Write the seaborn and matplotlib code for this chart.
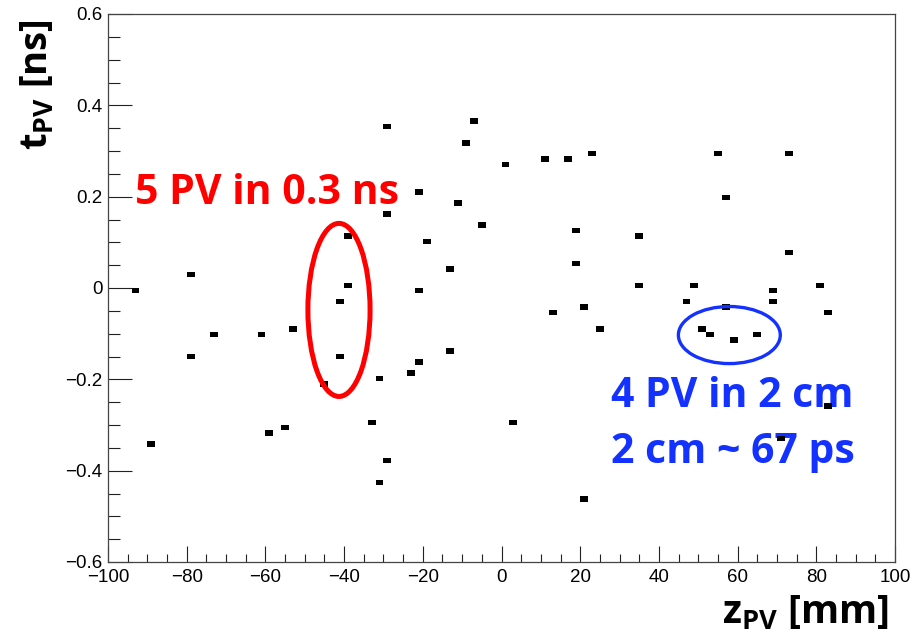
import numpy as np
import pandas as pd
import seaborn as sns
import matplotlib
matplotlib.use("Agg")
import matplotlib.pyplot as plt
from matplotlib.colors import ListedColormap
from matplotlib.patches import Ellipse
from matplotlib.ticker import MultipleLocator, FixedLocator, FixedFormatter

# Reconstructed primary vertices: longitudinal position (mm) and time (ns)
z_pv = [-93, -89, -79, -79, -73, -61, -59, -55, -53, -45,
        -41, -41, -39, -39, -33, -31, -31, -29, -29, -29,
        -23, -21, -21, -21, -19, -13, -13, -11, -9, -7,
        -5, 1, 3, 11, 13, 17, 19, 19, 21, 21,
        23, 25, 35, 35, 47, 49, 51, 53, 55, 57,
        57, 59, 65, 69, 69, 71, 73, 73, 81, 83,
        83]
t_pv = [-0.006, -0.342, 0.030, -0.150, -0.102, -0.102, -0.318, -0.306, -0.090, -0.210,
        -0.030, -0.150, 0.114, 0.006, -0.294, -0.198, -0.426, 0.354, 0.162, -0.378,
        -0.186, 0.210, -0.006, -0.162, 0.102, 0.042, -0.138, 0.186, 0.318, 0.366,
        0.138, 0.270, -0.294, 0.282, -0.054, 0.282, 0.126, 0.054, -0.042, -0.462,
        0.294, -0.090, 0.114, 0.006, -0.030, 0.006, -0.090, -0.102, 0.294, 0.198,
        -0.042, -0.114, -0.102, -0.006, -0.030, -0.330, 0.294, 0.078, 0.006, -0.054,
        -0.258]

x_ticks = [-100, -80, -60, -40, -20, 0, 20, 40, 60, 80, 100]
x_tick_labels = ["\u2212100", "\u221280", "\u221260", "\u221240", "\u221220",
                 "0", "20", "40", "60", "80", "100"]
y_ticks = [-0.6, -0.4, -0.2, 0.0, 0.2, 0.4, 0.6]
y_tick_labels = ["\u22120.6", "\u22120.4", "\u22120.2", "0", "0.2", "0.4", "0.6"]

red_note = "5 PV in 0.3 ns"
blue_notes = ["4 PV in 2 cm", "2 cm ~ 67 ps"]

sns.set_theme(style="white")
plt.rcParams["font.family"] = ["Liberation Sans", "DejaVu Sans"]
plt.rcParams["text.color"] = "black"
plt.rcParams["mathtext.fontset"] = "custom"
plt.rcParams["mathtext.rm"] = "Open Sans:bold"
plt.rcParams["mathtext.bf"] = "Open Sans:bold"
plt.rcParams["mathtext.it"] = "Open Sans:bold"

W, H = 914, 633
fig = plt.figure(figsize=(W / 100, H / 100), dpi=100)
fig.patch.set_facecolor("white")
left, right, top, bottom = 108, 895, 14, 562
ax = fig.add_axes([left / W, 1 - bottom / H, (right - left) / W, (bottom - top) / H])
ax.set_facecolor("white")

df = pd.DataFrame({"z": z_pv, "t": t_pv})
x_edges = np.linspace(-100, 100, 101)
y_edges = np.linspace(-0.6, 0.6, 101)
sns.histplot(data=df, x="z", y="t", bins=(x_edges, y_edges),
             cmap=ListedColormap(["black"]), cbar=False, ax=ax, zorder=3)

ax.set_xlim(-100, 100)
ax.set_ylim(-0.6, 0.6)
ax.set_xlabel("")
ax.set_ylabel("")

ax.xaxis.set_major_locator(FixedLocator(x_ticks))
ax.xaxis.set_major_formatter(FixedFormatter(x_tick_labels))
ax.xaxis.set_minor_locator(MultipleLocator(5))
ax.yaxis.set_major_locator(FixedLocator(y_ticks))
ax.yaxis.set_major_formatter(FixedFormatter(y_tick_labels))
ax.yaxis.set_minor_locator(MultipleLocator(0.05))

ax.tick_params(which="both", direction="in", bottom=True, left=True,
               top=False, right=False,
               colors="#222222", labelcolor="black", labelsize=13.5, width=0.8)
ax.tick_params(axis="x", which="major", length=11.5, pad=5)
ax.tick_params(axis="x", which="minor", length=5.8)
ax.tick_params(axis="y", which="major", length=17, pad=4)
ax.tick_params(axis="y", which="minor", length=8.5)
for s in ax.spines.values():
    s.set_color("#444444")
    s.set_linewidth(0.9)
    s.set_visible(True)

# Annotations
ax.add_patch(Ellipse((-41.3, -0.048), 15.8, 0.379, fill=False,
                     edgecolor="#ff0000", linewidth=3.6, zorder=4))
ax.add_patch(Ellipse((57.9, -0.103), 25.9, 0.125, fill=False,
                     edgecolor="#1432ff", linewidth=2.4, zorder=4))

note_font = ["Open Sans", "DejaVu Sans"]
ax.text(-93.1, 0.184, red_note, color="#ff0000", fontsize=29.5,
        fontweight="bold", family=note_font, zorder=2)
ax.text(27.8, -0.260, blue_notes[0], color="#1432ff", fontsize=29.5,
        fontweight="bold", family=note_font, zorder=2)
ax.text(27.8, -0.383, blue_notes[1], color="#1432ff", fontsize=29.5,
        fontweight="bold", family=note_font, zorder=2)

# Axis titles
fig.text(889 / W, 1 - 623 / H, r"$\mathbf{z_{PV}}$ [mm]", ha="right", va="baseline",
         fontsize=28, fontweight="bold", family=note_font, color="black")
fig.text(38 / W, 1 - 19 / H, r"$\mathbf{t_{PV}}$ [ns]", ha="center", va="top",
         rotation=90, fontsize=27.5, fontweight="bold", family=note_font, color="black")

fig.savefig("out.png", dpi=100, facecolor="white")
